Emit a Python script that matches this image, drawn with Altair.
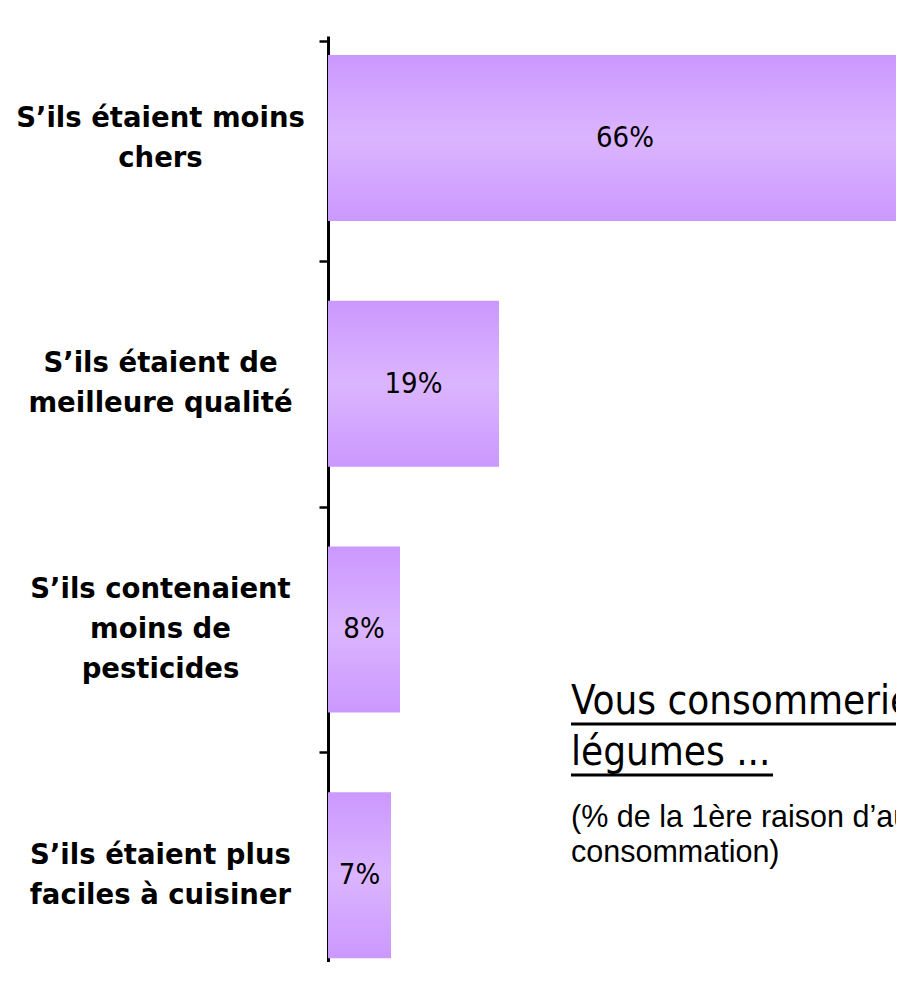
import json
import altair as alt
import pandas as pd

categories = [
    "S’ils étaient moins\nchers",
    "S’ils étaient de\nmeilleure qualité",
    "S’ils contenaient\nmoins de\npesticides",
    "S’ils étaient plus\nfaciles à cuisiner",
]
values = [66, 19, 8, 7]
labels = ["66%", "19%", "8%", "7%"]

title_lines = ["Vous consommeriez plus de fruits et", "légumes ..."]
subtitle_lines = ["(% de la 1ère raison d’augmentation de la", "consommation)"]

positions = list(range(len(categories)))
df = pd.DataFrame({"pos": positions, "cat": categories, "value": values, "label": labels})

FONT_T = "DejaVu Sans Condensed, DejaVu Sans, sans-serif"
LABEL_LH = 40

# y domain (category index units): axis starts a bit above the first bar
Y_TOP, Y_BOTTOM = -0.395, 3.333
tick_vals = [Y_TOP] + [i * 0.5 for i in range(2 * len(categories) - 1)]

lines_json = json.dumps([c.split("\n") for c in categories], ensure_ascii=False)
label_expr = f"datum.value % 1 === 0 ? {lines_json}[datum.value] : ''"

three_line = [i for i, c in enumerate(categories) if c.count("\n") == 2]
test3 = " || ".join(f"datum.value === {i}" for i in three_line) or "false"

y_scale = alt.Scale(domain=[Y_TOP, Y_BOTTOM], reverse=True, nice=False, zero=False)

y_axis = alt.Axis(
    values=tick_vals,
    labelExpr=label_expr,
    labelAlign="center",
    labelBaseline="middle",
    labelPadding=159,
    labelLimit=400,
    labelOverlap=False,
    labelFlush=False,
    labelFont="DejaVu Sans, sans-serif",
    labelFontWeight="bold",
    labelFontSize=27.5,
    labelLineHeight=LABEL_LH,
    labelColor="black",
    labelOffset={"condition": {"test": test3, "value": -LABEL_LH}, "value": -LABEL_LH / 2},
    tickSize=9,
    tickWidth=2.5,
    tickColor={"condition": {"test": "datum.value % 1 === 0", "value": "transparent"}, "value": "black"},
    domainColor="black",
    domainWidth=3,
    grid=False,
    title=None,
)

x_scale = alt.Scale(domain=[0, 568 / 9], nice=False, zero=True)

grad = alt.Gradient(
    gradient="linear",
    stops=[
        alt.GradientStop(color="#CB98FE", offset=0),
        alt.GradientStop(color="#DBB5FF", offset=0.5),
        alt.GradientStop(color="#CB98FE", offset=1),
    ],
    x1=0, x2=0, y1=0, y2=1,
)

base = alt.Chart(df)

bars = base.mark_bar(color=grad, clip=True, orient="horizontal", size=166).encode(
    x=alt.X("value:Q", scale=x_scale, axis=None),
    y=alt.Y("pos:Q", scale=y_scale, axis=y_axis),
)

texts = base.transform_calculate(mid="datum.value / 2").mark_text(
    font=FONT_T, fontSize=29, color="black", align="center", baseline="middle", clip=True
).encode(
    x=alt.X("mid:Q", scale=x_scale, axis=None),
    y=alt.Y("pos:Q", scale=y_scale),
    text="label:N",
)

one = pd.DataFrame({"k": [0]})

title_txt = alt.Chart(one).mark_text(
    text=title_lines, font=FONT_T, fontSize=40, color="black",
    align="left", baseline="alphabetic", lineHeight=51, clip=True,
).encode(x=alt.value(243), y=alt.value(678))

underline1 = alt.Chart(one).mark_rule(color="black", strokeWidth=3, clip=True).encode(
    x=alt.value(243), x2=alt.value(620), y=alt.value(688)
)
underline2 = alt.Chart(one).mark_rule(color="black", strokeWidth=3, clip=True).encode(
    x=alt.value(243), x2=alt.value(445), y=alt.value(739)
)

subtitle_txt = alt.Chart(one).mark_text(
    text=subtitle_lines, font="Liberation Sans, Arial, sans-serif", fontSize=30.5,
    color="black", align="left", baseline="alphabetic", lineHeight=35, clip=True,
).encode(x=alt.value(243), y=alt.value(791))

chart = alt.layer(bars, texts, title_txt, underline1, underline2, subtitle_txt).properties(
    width=568,
    height=926,
    autosize=alt.AutoSizeParams(type="none"),
    padding={"left": 320, "top": 28, "right": 0, "bottom": 0},
    background="white",
).configure_view(strokeWidth=0)

chart.save("out.html", embed_options={"renderer": "svg", "actions": False})
